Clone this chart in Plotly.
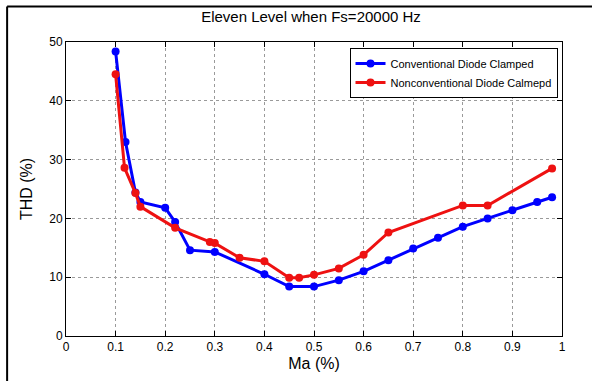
import plotly.graph_objects as go

# Data
ma_conv = [0.10, 0.12, 0.14, 0.15, 0.20, 0.22, 0.25, 0.30, 0.40, 0.45, 0.50, 0.55, 0.60, 0.65, 0.70, 0.75, 0.80, 0.85, 0.90, 0.95, 0.98]
thd_conv = [48.4, 33.0, 24.4, 22.8, 21.8, 19.4, 14.6, 14.3, 10.5, 8.4, 8.4, 9.5, 11.0, 12.9, 14.9, 16.7, 18.6, 20.0, 21.4, 22.8, 23.6]

ma_nonconv = [0.10, 0.118, 0.14, 0.15, 0.22, 0.29, 0.30, 0.35, 0.40, 0.45, 0.47, 0.50, 0.55, 0.60, 0.65, 0.80, 0.85, 0.98]
thd_nonconv = [44.5, 28.6, 24.3, 22.0, 18.4, 16.0, 15.8, 13.3, 12.7, 9.9, 9.9, 10.4, 11.5, 13.8, 17.6, 22.2, 22.2, 28.5]

x_ticks = [0, 0.1, 0.2, 0.3, 0.4, 0.5, 0.6, 0.7, 0.8, 0.9, 1]
x_ticktext = ["0", "0.1", "0.2", "0.3", "0.4", "0.5", "0.6", "0.7", "0.8", "0.9", "1"]
y_ticks = [0, 10, 20, 30, 40, 50]

FONT = "Liberation Sans Narrow, Liberation Sans, Arial, sans-serif"

fig = go.Figure()
fig.add_trace(go.Scatter(
    x=ma_conv, y=thd_conv, mode="lines+markers",
    name="Conventional Diode Clamped",
    line=dict(color="#0000ff", width=3),
    marker=dict(color="#0000ff", size=8, symbol="circle"),
))
fig.add_trace(go.Scatter(
    x=ma_nonconv, y=thd_nonconv, mode="lines+markers",
    name="Nonconventional Diode Calmepd",
    line=dict(color="#ee1111", width=3),
    marker=dict(color="#ee1111", size=8, symbol="circle"),
))

L, R, T, B = 65.5, 29.5, 42, 45
W, H = 592, 381
pw = W - L - R
ph = H - T - B

def px2paper_x(px):
    return (px - L) / pw

def px2paper_y(py):
    return (H - B - py) / ph

axis_common = dict(
    showline=True, linecolor="black", linewidth=1, mirror="ticks",
    ticks="inside", ticklen=5, tickcolor="black",
    showgrid=True, gridcolor="#9a9a9a", griddash="dot", gridwidth=1,
    zeroline=False, automargin=False,
    tickfont=dict(family=FONT, size=12, color="black"),
)

fig.update_layout(
    width=W, height=H,
    margin=dict(l=L, r=R, t=T, b=B, autoexpand=False),
    paper_bgcolor="white", plot_bgcolor="white",
    title=dict(text="Eleven Level when Fs=20000 Hz", x=311 / W,
               xanchor="center", y=1 - 17 / H, yanchor="middle",
               font=dict(family=FONT, size=15, color="black")),
    xaxis=dict(range=[0, 1], tickvals=x_ticks, ticktext=x_ticktext,
               title=dict(text="Ma (%)", font=dict(family=FONT, size=16, color="black"), standoff=4),
               **axis_common),
    yaxis=dict(range=[0, 50], tickvals=y_ticks,
               title=dict(text="THD (%)", font=dict(family=FONT, size=16, color="black"), standoff=12),
               **axis_common),
    legend=dict(x=px2paper_x(558), y=px2paper_y(48), xanchor="right", yanchor="top",
                bgcolor="white", bordercolor="black", borderwidth=1,
                font=dict(family=FONT, size=11, color="black"),
                itemwidth=30, tracegroupgap=0),
    showlegend=True,
)

# Outer figure frame (top and left edges)
fig.add_shape(type="line", xref="paper", yref="paper",
              x0=px2paper_x(6.5), x1=px2paper_x(600), y0=px2paper_y(6.5), y1=px2paper_y(6.5),
              line=dict(color="black", width=2), layer="above")
fig.add_shape(type="line", xref="paper", yref="paper",
              x0=px2paper_x(6.5), x1=px2paper_x(6.5), y0=px2paper_y(6.5), y1=px2paper_y(400),
              line=dict(color="black", width=2), layer="above")

fig.write_html("out.html", config={"displayModeBar": False},
               post_script="document.body.style.margin='0';document.body.style.padding='0';")
